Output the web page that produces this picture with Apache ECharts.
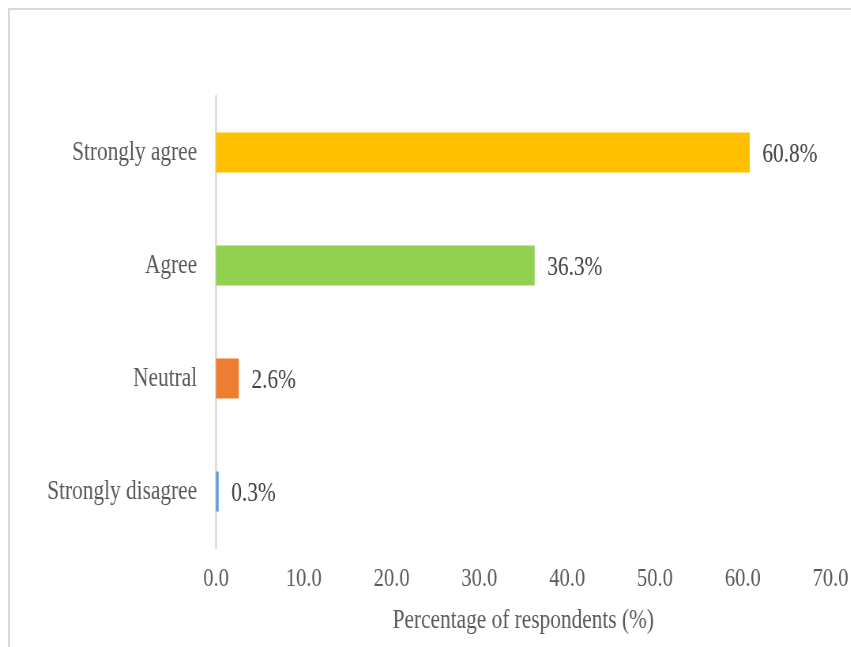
<!DOCTYPE html>
<html><head><meta charset="utf-8">
<script src="https://cdn.jsdelivr.net/npm/echarts@6/dist/echarts.min.js"></script>
<style>html,body{margin:0;padding:0;background:#fff;overflow:hidden}#frame{position:absolute;left:8px;top:8px;width:843px;height:639px;border-left:2px solid #d9d9d9;border-top:2px solid #d9d9d9;box-sizing:border-box}#c{position:absolute;left:0;top:0;width:1077px;height:647px;transform:scaleX(0.79);transform-origin:0 0}</style>
</head><body><div id="frame"></div><div id="c"></div>
<script>
const categories = ['Strongly disagree', 'Neutral', 'Agree', 'Strongly agree'];
const values = [0.3, 2.6, 36.3, 60.8];
const colors = ['#5B9BD5', '#ED7D31', '#92D050', '#FFC000'];
const xTicks = [0, 10, 20, 30, 40, 50, 60, 70];
const font = '"Liberation Serif", "Times New Roman", serif';
const chart = echarts.init(document.getElementById('c'));
chart.setOption({
  animation: false,
  grid: {left: 273.4, right: 19.5, top: 96, bottom: 99, containLabel: false},
  xAxis: {
    type: 'value', min: xTicks[0], max: xTicks[xTicks.length-1], interval: 10,
    axisLine: {show: false}, axisTick: {show: false}, splitLine: {show: false},
    axisLabel: {formatter: v => v.toFixed(1), fontFamily: font, fontSize: 26, color: '#595959', margin: 18},
    name: 'Percentage of respondents (%)', nameLocation: 'middle', nameGap: 59,
    nameTextStyle: {fontFamily: font, fontSize: 27, color: '#595959'}
  },
  yAxis: {
    type: 'category', data: categories,
    axisLine: {show: true, lineStyle: {color: '#d9d9d9', width: 2.5}},
    axisTick: {show: false},
    axisLabel: {fontFamily: font, fontSize: 27, color: '#595959', margin: 24, padding: [4, 0, 0, 0]}
  },
  series: [{
    type: 'bar', barWidth: 40,
    data: values.map((v, i) => ({value: v, itemStyle: {color: colors[i]}})),
    label: {show: true, position: 'right', distance: 16, offset: [0, 2], formatter: p => p.value.toFixed(1) + '%',
      fontFamily: font, fontSize: 27, color: '#404040'}
  }]
});
</script></body></html>
